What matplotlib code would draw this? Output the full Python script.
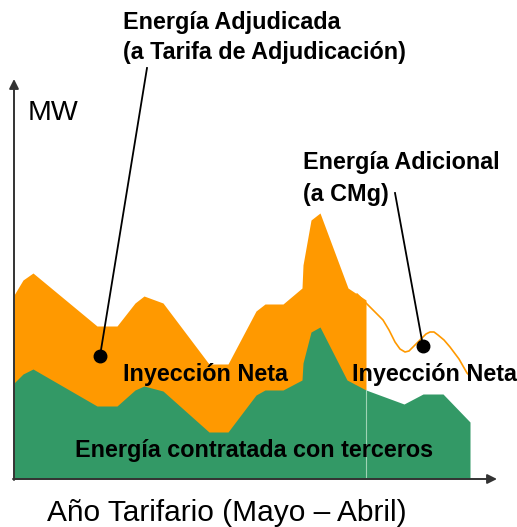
import matplotlib.pyplot as plt

plt.rcParams['font.family'] = ['Liberation Sans', 'DejaVu Sans']

# meses del año tarifario (unidades arbitrarias) y MW
t_adj = [0, 9, 19, 83, 103, 121, 130, 149, 195, 214, 242, 251, 269, 288, 289, 297, 306, 334, 343, 352]
mw_adj = [184, 199, 206, 153, 153, 176, 183, 176, 115, 115, 168, 175, 175, 191, 214, 259, 266, 191, 185, 179]

t_terc = [0, 9, 19, 83, 103, 121, 130, 149, 195, 214, 242, 251, 269, 288, 289, 297, 306, 333, 352, 390, 409, 429, 456]
mw_terc = [96, 105, 110, 73, 73, 89, 93, 88, 47, 47, 84, 89, 89, 99, 116, 147, 152, 99, 89, 75, 85, 85, 57]

t_adic = [343, 352, 360, 369, 375, 381, 386, 391, 395, 399, 404, 408, 412, 416, 420, 424, 430, 436, 445, 453, 456]
mw_adic = [185, 176, 168, 159, 149, 137, 130, 127, 128, 132, 137, 141, 145, 147, 147, 144, 139, 132, 120, 106, 103]

naranja = '#FF9900'
verde = '#339966'

fig = plt.figure(figsize=(5.17, 5.27), dpi=100)
ax = fig.add_axes([14 / 517, 48 / 527, 483 / 517, 400 / 527])
ax.set_xlim(0, 483)
ax.set_ylim(0, 400)
ax.axis('off')

ax.fill_between(t_adj, 0, mw_adj, color=naranja, lw=0)
ax.fill_between(t_terc, 0, mw_terc, color=verde, lw=0)
ax.plot(t_adic, mw_adic, color=naranja, lw=1.2, solid_capstyle='round')
ax.plot([352, 352], [0, 89], color='#9fd3b4', lw=0.8)

# ejes con flecha
flecha = dict(arrowstyle='-|>', color='#333333', lw=1.4, mutation_scale=14, shrinkA=0, shrinkB=0)
ax.annotate('', xy=(0, 400), xytext=(0, -1), arrowprops=flecha, annotation_clip=False)
ax.annotate('', xy=(483, 0), xytext=(-1, 0), arrowprops=flecha, annotation_clip=False)

# lineas de referencia
ax.plot([133, 86], [411, 123], color='black', lw=1.3, clip_on=False)
ax.plot([381, 409], [286, 133], color='black', lw=1.3, clip_on=False)
ax.plot([86, 409], [123, 133], 'o', color='black', ms=9, clip_on=False)

negrita = dict(fontsize=16.8, fontweight='bold', va='center', ha='left', clip_on=False)
ax.text(109, 457, 'Energía Adjudicada', **negrita)
ax.text(109, 427, '(a Tarifa de Adjudicación)', **negrita)
ax.text(289, 316, 'Energía Adicional', **negrita)
ax.text(289, 285, '(a CMg)', **negrita)
ax.text(109, 104, 'Inyección Neta', **negrita)
ax.text(338, 104, 'Inyección Neta', **negrita)
ax.text(61, 28, 'Energía contratada con terceros', **negrita)

ax.text(14, 366, 'MW', fontsize=20.5, va='center', ha='left', clip_on=False)
ax.text(33, -34, 'Año Tarifario (Mayo – Abril)', fontsize=21.5, va='center', ha='left', clip_on=False)

fig.savefig('out.png', dpi=100)
